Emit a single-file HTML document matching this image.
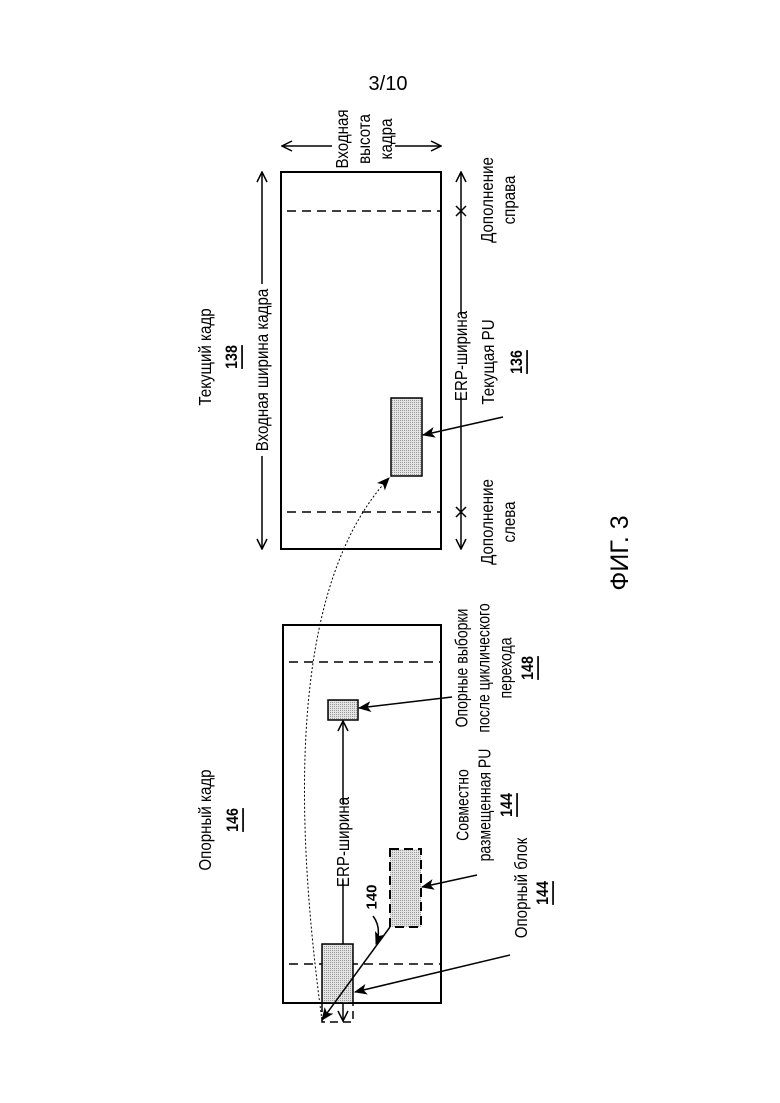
<!DOCTYPE html>
<html><head><meta charset="utf-8"><style>
html,body{margin:0;padding:0;background:#fff;}
svg{display:block;}
text{font-family:"Liberation Sans Narrow","Liberation Sans",sans-serif;font-size:18px;fill:#000;}
.b{font-weight:bold;text-decoration:underline;font-size:17px;}
</style></head><body>
<svg width="780" height="1103" viewBox="0 0 780 1103" xmlns="http://www.w3.org/2000/svg">
<defs>
<marker id="op" viewBox="0 0 12 12" refX="11" refY="6" markerWidth="12" markerHeight="12" markerUnits="userSpaceOnUse" orient="auto"><path d="M1,1 L11,6 L1,11" fill="none" stroke="#000" stroke-width="1.5"/></marker>
<marker id="fa" viewBox="0 0 12 12" refX="11" refY="6" markerWidth="13" markerHeight="13" markerUnits="userSpaceOnUse" orient="auto"><path d="M0,1 L12,6 L0,11 L3,6 Z" fill="#000"/></marker>
<pattern id="dots" width="2" height="2" patternUnits="userSpaceOnUse"><rect width="2" height="2" fill="#e4e4e4"/><rect width="1" height="1" fill="#999"/></pattern>
</defs>
<g stroke="#000" fill="none">
<text x="388" y="90" text-anchor="middle" style="font-family:'Liberation Sans',sans-serif;font-size:20px" stroke="none">3/10</text>

<rect x="281" y="172" width="160" height="377" stroke-width="2"/>
<line x1="287" y1="211" x2="441" y2="211" stroke-dasharray="9,6" stroke-width="1.5"/>
<line x1="287" y1="512" x2="441" y2="512" stroke-dasharray="9,6" stroke-width="1.5"/>
<line x1="262" y1="284" x2="262" y2="172" stroke-width="1.5" marker-end="url(#op)"/>
<line x1="262" y1="456" x2="262" y2="549" stroke-width="1.5" marker-end="url(#op)"/>
<line x1="332" y1="146" x2="282" y2="146" stroke-width="1.5" marker-end="url(#op)"/>
<line x1="395" y1="146" x2="441" y2="146" stroke-width="1.5" marker-end="url(#op)"/>
<line x1="461" y1="315" x2="461" y2="172" stroke-width="1.5" marker-end="url(#op)"/>
<line x1="461" y1="397" x2="461" y2="549" stroke-width="1.5" marker-end="url(#op)"/>
<path d="M456,206 L466,216 M466,206 L456,216 M456,507 L466,517 M466,507 L456,517" stroke-width="1.5"/>
<rect x="391" y="398" width="31" height="78" fill="url(#dots)" stroke-width="1.5"/>
<line x1="503" y1="417" x2="423" y2="435" stroke-width="1.5" marker-end="url(#fa)"/>

<rect x="283" y="625" width="158" height="378" stroke-width="2"/>
<line x1="289" y1="662" x2="441" y2="662" stroke-dasharray="9,6" stroke-width="1.5"/>
<line x1="289" y1="964" x2="441" y2="964" stroke-dasharray="9,6" stroke-width="1.5"/>
<rect x="328" y="700" width="30" height="20" fill="url(#dots)" stroke-width="1.5"/>
<line x1="452" y1="697" x2="359" y2="708" stroke-width="1.5" marker-end="url(#fa)"/>
<line x1="343" y1="805" x2="343" y2="721" stroke-width="1.5" marker-end="url(#op)"/>
<line x1="343" y1="880" x2="343" y2="1021" stroke-width="1.5" marker-end="url(#op)"/>
<rect x="390" y="849" width="31" height="78" fill="url(#dots)" stroke-width="2" stroke-dasharray="9,5"/>
<line x1="477" y1="875" x2="422" y2="887" stroke-width="1.5" marker-end="url(#fa)"/>
<rect x="322" y="944" width="31" height="59" fill="url(#dots)" stroke-width="1.5"/>
<rect x="322" y="1003" width="31" height="19" stroke-width="1.5" stroke-dasharray="8,5"/>
<line x1="510" y1="955" x2="355" y2="992" stroke-width="1.5" marker-end="url(#fa)"/>
<line x1="390" y1="927" x2="322" y2="1020" stroke-width="1.5" marker-end="url(#fa)"/>
<path d="M373,916 Q382,928 376,944" stroke-width="1.5" marker-end="url(#fa)"/>
<path d="M322,1020 Q266,610 389,478" stroke-width="1" stroke-dasharray="2,2" marker-end="url(#fa)"/>
</g>

<g>
<text transform="translate(205,357) rotate(-90) scale(0.84,1)" text-anchor="middle" dominant-baseline="central">Текущий кадр</text>
<text class="b" transform="translate(232,357) rotate(-90) scale(0.84,1)" text-anchor="middle" dominant-baseline="central">138</text>
<text transform="translate(262,370) rotate(-90) scale(0.84,1)" text-anchor="middle" dominant-baseline="central">Входная ширина кадра</text>
<text transform="translate(342,139) rotate(-90) scale(0.84,1)" text-anchor="middle" dominant-baseline="central">Входная</text>
<text transform="translate(364,139) rotate(-90) scale(0.84,1)" text-anchor="middle" dominant-baseline="central">высота</text>
<text transform="translate(386,139) rotate(-90) scale(0.84,1)" text-anchor="middle" dominant-baseline="central">кадра</text>
<text transform="translate(461,356) rotate(-90) scale(0.84,1)" text-anchor="middle" dominant-baseline="central">ERP-ширина</text>
<text transform="translate(488,362) rotate(-90) scale(0.84,1)" text-anchor="middle" dominant-baseline="central">Текущая PU</text>
<text class="b" transform="translate(517,362) rotate(-90) scale(0.84,1)" text-anchor="middle" dominant-baseline="central">136</text>
<text transform="translate(487,200) rotate(-90) scale(0.84,1)" text-anchor="middle" dominant-baseline="central">Дополнение</text>
<text transform="translate(509,200) rotate(-90) scale(0.84,1)" text-anchor="middle" dominant-baseline="central">справа</text>
<text transform="translate(487,522) rotate(-90) scale(0.84,1)" text-anchor="middle" dominant-baseline="central">Дополнение</text>
<text transform="translate(509,522) rotate(-90) scale(0.84,1)" text-anchor="middle" dominant-baseline="central">слева</text>

<text transform="translate(205,820) rotate(-90) scale(0.84,1)" text-anchor="middle" dominant-baseline="central">Опорный кадр</text>
<text class="b" transform="translate(233,820) rotate(-90) scale(0.84,1)" text-anchor="middle" dominant-baseline="central">146</text>
<text transform="translate(343,842) rotate(-90) scale(0.84,1)" text-anchor="middle" dominant-baseline="central">ERP-ширина</text>
<text transform="translate(372,897) rotate(-90)" text-anchor="middle" dominant-baseline="central" style="font-weight:bold;font-size:15px">140</text>
<text transform="translate(462,668) rotate(-90) scale(0.78,1)" text-anchor="middle" dominant-baseline="central">Опорные выборки</text>
<text transform="translate(484,668) rotate(-90) scale(0.78,1)" text-anchor="middle" dominant-baseline="central">после циклического</text>
<text transform="translate(506,668) rotate(-90) scale(0.78,1)" text-anchor="middle" dominant-baseline="central">перехода</text>
<text class="b" transform="translate(528,668) rotate(-90) scale(0.84,1)" text-anchor="middle" dominant-baseline="central">148</text>
<text transform="translate(463,805) rotate(-90) scale(0.78,1)" text-anchor="middle" dominant-baseline="central">Совместно</text>
<text transform="translate(485,805) rotate(-90) scale(0.78,1)" text-anchor="middle" dominant-baseline="central">размещенная PU</text>
<text class="b" transform="translate(507,805) rotate(-90) scale(0.84,1)" text-anchor="middle" dominant-baseline="central">144</text>
<text transform="translate(521,888) rotate(-90) scale(0.84,1)" text-anchor="middle" dominant-baseline="central">Опорный блок</text>
<text class="b" transform="translate(543,893) rotate(-90) scale(0.84,1)" text-anchor="middle" dominant-baseline="central">144</text>

<text transform="translate(620,553) rotate(-90)" text-anchor="middle" dominant-baseline="central" style="font-family:'Liberation Sans',sans-serif;font-size:25px">ФИГ. 3</text>
</g>
</svg>
</body></html>
